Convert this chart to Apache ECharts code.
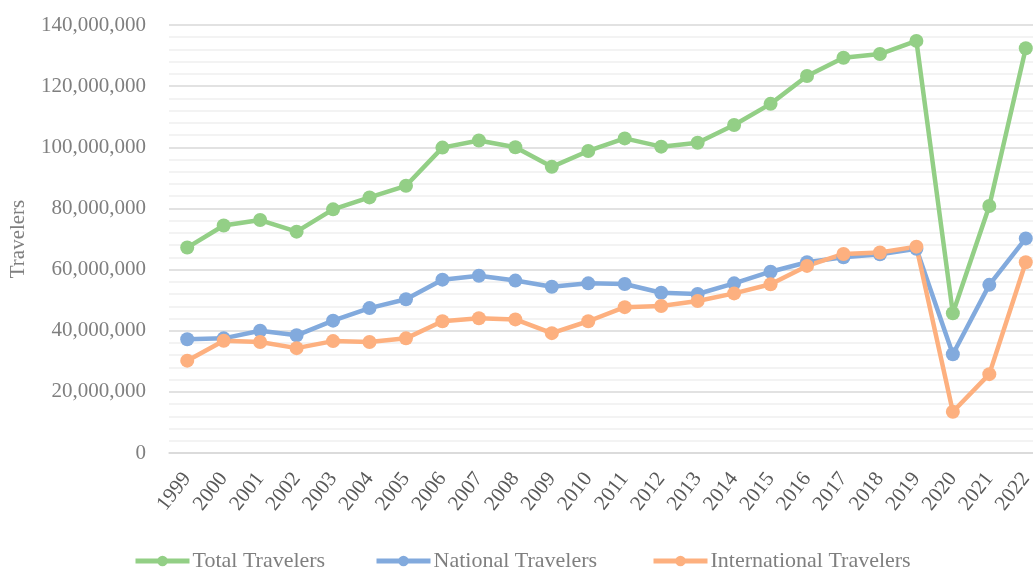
<!DOCTYPE html>
<html>
<head>
<meta charset="utf-8">
<script src="https://cdn.jsdelivr.net/npm/echarts@6/dist/echarts.min.js"></script>
<style>
  html, body { margin: 0; padding: 0; background: #fff; overflow: hidden; }
  /* plot runs past the right edge in the original, so the canvas is a bit wider than the window */
  #chart { width: 1044px; height: 568px; }
</style>
</head>
<body>
<div id="chart"></div>
<script>
const years = ["1999", "2000", "2001", "2002", "2003", "2004", "2005", "2006", "2007", "2008", "2009", "2010",
  "2011", "2012", "2013", "2014", "2015", "2016", "2017", "2018", "2019", "2020", "2021", "2022"];

// millions of travelers
const total = [67.2, 74.4, 76.2, 72.4, 79.7, 83.6, 87.4, 99.9, 102.2, 100.0, 93.6, 98.8,
  102.9, 100.2, 101.5, 107.3, 114.2, 123.3, 129.3, 130.5, 134.8, 45.7, 80.8, 132.4];
const national = [37.2, 37.5, 40.0, 38.5, 43.3, 47.4, 50.3, 56.7, 58.0, 56.4, 54.4, 55.5,
  55.3, 52.4, 52.0, 55.5, 59.3, 62.4, 64.0, 65.0, 66.8, 32.3, 55.0, 70.2];
const international = [30.2, 36.7, 36.3, 34.3, 36.6, 36.3, 37.5, 43.1, 44.1, 43.7, 39.2, 43.1,
  47.7, 48.1, 49.7, 52.2, 55.2, 61.2, 65.1, 65.6, 67.5, 13.5, 25.8, 62.4];

const font = "'Liberation Serif', serif";
const grey = "#7f7f7f";
const toPeople = (arr) => arr.map((v) => Math.round(v * 1e6));

const chart = echarts.init(document.getElementById("chart"), null, { renderer: "canvas" });

const lineSeries = (name, values, color) => ({
  name,
  type: "line",
  data: toPeople(values),
  symbol: "circle",
  symbolSize: 14,
  lineStyle: { width: 4.5, color },
  itemStyle: { color },
  animation: false,
});

const legendAt = (name, left) => ({
  data: [name],
  left,
  top: 545,
  itemWidth: 54,
  itemHeight: 13,
  itemGap: 0,
  lineStyle: { width: 5 },
  textStyle: { fontFamily: font, fontSize: 22, color: grey, padding: [0, 0, 0, -2] },
});

chart.setOption({
  backgroundColor: "#ffffff",
  grid: { left: 168, right: 0, top: 25, bottom: 115 },
  legend: [
    legendAt("Total Travelers", 128),
    legendAt("National Travelers", 369),
    legendAt("International Travelers", 646),
  ],
  xAxis: {
    type: "category",
    data: years,
    boundaryGap: true,
    axisLine: { lineStyle: { color: "#d9d9d9", width: 1.5 } },
    axisTick: { show: false },
    axisLabel: {
      rotate: 52,
      margin: 22,
      fontFamily: font,
      fontSize: 21,
      color: "#595959",
      interval: 0,
    },
  },
  yAxis: {
    type: "value",
    min: 0,
    max: 140000000,
    interval: 20000000,
    name: "Travelers",
    nameLocation: "middle",
    nameGap: 140,
    nameTextStyle: { fontFamily: font, fontSize: 21, color: grey },
    axisLine: { show: false },
    axisTick: { show: false },
    axisLabel: {
      margin: 23,
      fontFamily: font,
      fontSize: 21,
      color: grey,
      formatter: (v) => v.toLocaleString("en-US"),
    },
    splitLine: { lineStyle: { color: "#d9d9d9", width: 1.5 } },
    minorTick: { show: false, splitNumber: 5 },
    minorSplitLine: { show: true, lineStyle: { color: "#f0f0f0", width: 1.5 } },
  },
  series: [
    lineSeries("Total Travelers", total, "#93cf86"),
    lineSeries("National Travelers", national, "#82aadd"),
    lineSeries("International Travelers", international, "#fdb07f"),
  ],
});
</script>
</body>
</html>
